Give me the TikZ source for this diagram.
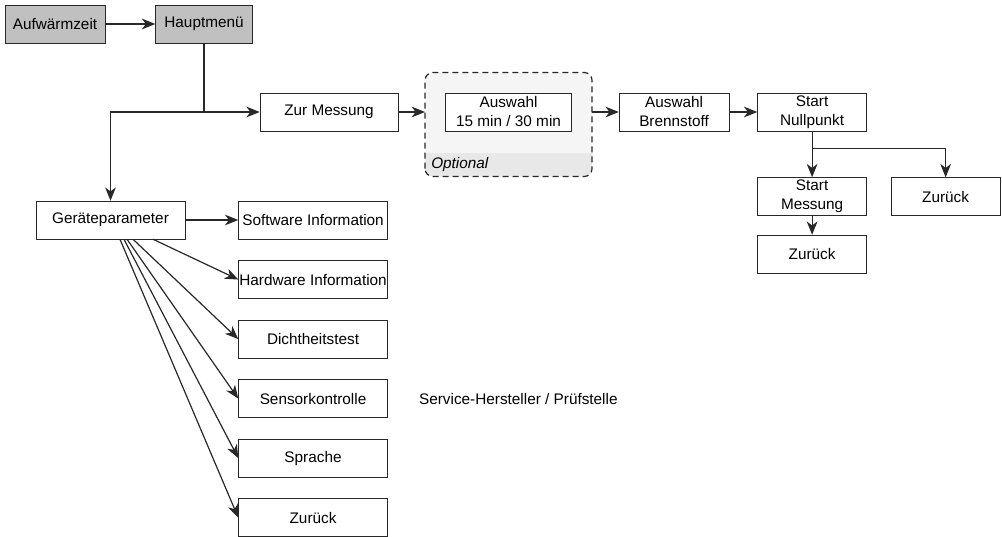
\documentclass[tikz,border=0pt]{standalone}
\usepackage{fontspec}
\setmainfont{Liberation Sans}
\usepackage{tikz}
\usetikzlibrary{positioning, calc, fit, backgrounds, arrows.meta}
\definecolor{boxgray}{RGB}{192, 192, 192}
\definecolor{linegray}{RGB}{40, 40, 40}
\definecolor{groupfill}{RGB}{245, 245, 245}
\definecolor{bandfill}{RGB}{232, 232, 232}
\tikzset{
    menubox/.style={
        draw=linegray, fill=white, minimum height=28.5pt, inner xsep=0pt, inner ysep=1pt, align=center
    },
    startbox/.style={
        menubox, fill=boxgray
    },
    flow/.style={
        -{Stealth[length=10pt, width=8pt, inset=3pt]}, linegray, line width=0.9pt
    },
    flowline/.style={
        linegray, line width=0.9pt
    }
}

\begin{document}
\begin{tikzpicture}[
        x=0.75pt, y=-0.75pt,
        font=\fontsize{11.5}{14.25}\selectfont,
        % --- STYLE ---
        optframe/.style={
            draw=linegray, dashed, dash pattern=on 4.5pt off 3pt, line width=0.9pt, rounded corners=6pt
        }
    ]
        \useasboundingbox (0,0) rectangle (1002,536);

        % --- 1. HAUPTPFAD ---
        \node[startbox, minimum width=75pt] (aufw) at (55,24) {Aufwärmzeit};
        \node[startbox, minimum width=72.75pt, right=37.5pt of aufw] (haupt) {Hauptmenü};
        \node[menubox, minimum width=103.5pt] (zur) at (329,112) {Zur Messung};
        \node[menubox, minimum width=94.5pt, right=35.25pt of zur] (ausw) {Auswahl\\15 min / 30 min};
        \node[menubox, minimum width=82.5pt, right=35.25pt of ausw] (brenn) {Auswahl\\Brennstoff};
        \node[menubox, minimum width=81.75pt, right=21pt of brenn] (nullp) {Start\\Nullpunkt};
        \node[menubox, minimum width=81.75pt, below=34.5pt of nullp] (startm) {Start\\Messung};
        \node[menubox, minimum width=81.75pt, right=18pt of startm] (zurA) {Zurück};
        \node[menubox, minimum width=81.75pt, below=14.25pt of startm] (zurB) {Zurück};

        % --- 2. GERAETEPARAMETER ---
        \node[menubox, minimum width=111.75pt] (geraet) at (110.5,220) {Geräteparameter};
        \node[menubox, minimum width=111.75pt, right=39.75pt of geraet] (sw) {Software Information};
        \node[menubox, minimum width=111.75pt, below=15.75pt of sw] (hw) {Hardware Information};
        \node[menubox, minimum width=111.75pt, below=15.75pt of hw] (dicht) {Dichtheitstest};
        \node[menubox, minimum width=111.75pt, below=15.75pt of dicht] (sensor) {Sensorkontrolle};
        \node[menubox, minimum width=111.75pt, below=15.75pt of sensor] (sprache) {Sprache};
        \node[menubox, minimum width=111.75pt, below=15.75pt of sprache] (zurC) {Zurück};
        \node[right=23.25pt of sensor, inner sep=0pt] (service) {Service-Hersteller / Prüfstelle};

        % --- 3. OPTIONAL-GRUPPE ---
        \begin{scope}[on background layer]
            \node[fit={([xshift=-15pt, yshift=15pt]ausw.north west) ([xshift=15pt, yshift=-33.75pt]ausw.south east)},
                inner sep=0pt, fill=groupfill, rounded corners=6pt] (optgrp) {};
            \begin{scope}
                \clip[rounded corners=6pt] (optgrp.south west) rectangle (optgrp.north east);
                \fill[bandfill] (optgrp.south west) rectangle ($(optgrp.south east)+(0,-24)$);
            \end{scope}
            \draw[optframe] (optgrp.south west) rectangle (optgrp.north east);
        \end{scope}
        \node[anchor=west, inner sep=0pt, font=\fontsize{11.5}{13}\selectfont\itshape] (optlbl) at ($(optgrp.south west)+(6,-12)$) {Optional};

        % --- 4. PFEILE ---
        \draw[flow] (aufw) -- (haupt);
        \coordinate (split) at (haupt.south |- zur.west);
        \draw[flowline] (haupt) -- (split);
        \draw[flow] (split) -- (zur);
        \draw[flow] (split) -| (geraet);
        \draw[flow] (zur.east) -- (zur.east -| optgrp.west);
        \draw[flow] (ausw.east -| optgrp.east) -- (brenn);
        \draw[flow] (brenn) -- (nullp);
        \draw[flowline] (nullp.south) -- ++(0,17) coordinate (branch);
        \draw[flow] (branch) -- (startm);
        \draw[flow] (branch) -| (zurA);
        \draw[flow] (startm) -- (zurB);

        \draw[flow] (geraet) -- (sw);
        \draw[flow] ([xshift=31.9pt]geraet.south) -- (hw.west);
        \draw[flow] ([xshift=16.9pt]geraet.south) -- (dicht.west);
        \draw[flow] ([xshift=12.4pt]geraet.south) -- (sensor.west);
        \draw[flow] ([xshift=10.1pt]geraet.south) -- (sprache.west);
        \draw[flow] ([xshift=7.1pt]geraet.south) -- (zurC.west);

    \end{tikzpicture}
\end{document}
